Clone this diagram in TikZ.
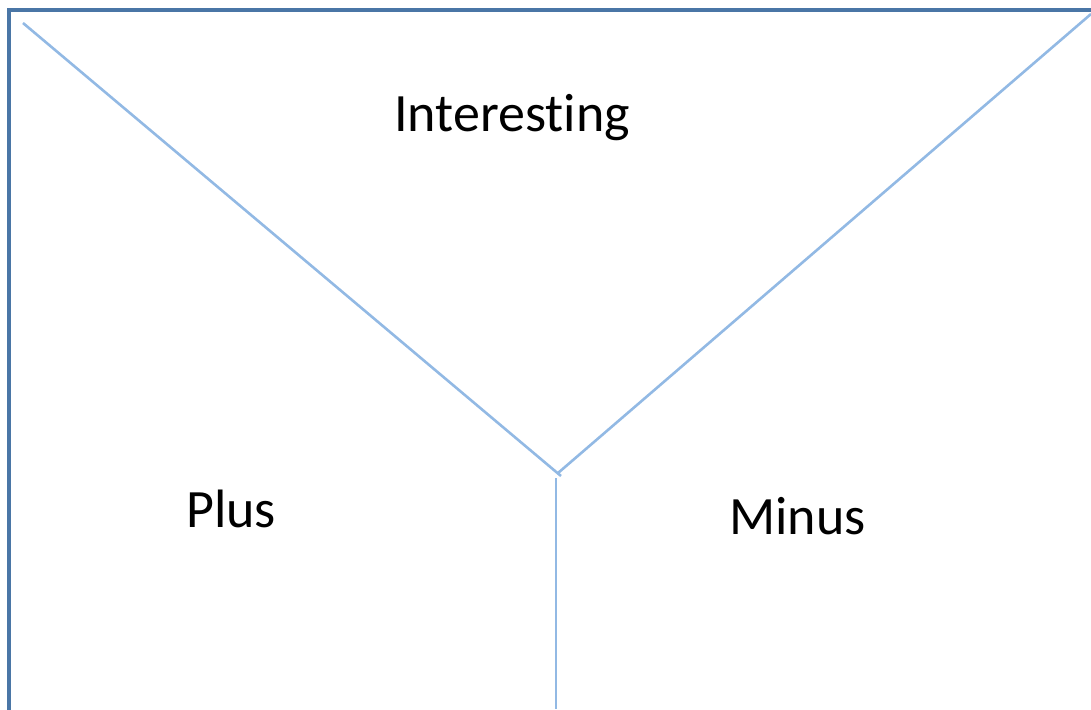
\documentclass[tikz,border=0pt]{standalone}
\usepackage{fontspec}
\setmainfont{Carlito}[Ligatures={NoCommon,NoRare}]
\definecolor{frame}{RGB}{74,118,166}
\definecolor{vline}{RGB}{146,185,228}
\begin{document}
\begin{tikzpicture}[x=1pt,y=-1pt,
  frameline/.style={draw=frame,line width=3.5pt},
  yline/.style={draw=vline,line width=2.6pt},
  lbl/.style={font=\fontsize{54}{60}\selectfont,inner sep=0pt,anchor=base west}]
\useasboundingbox (0,0) rectangle (1091,709);
\draw[frameline] (9,712) -- (9,10) -- (1095,10);
\coordinate (tl) at (23,23);
\coordinate (tr) at (1091,14);
\coordinate (jl) at (561,476);
\coordinate (jr) at (558,473);
\coordinate (vt) at (556,478);
\coordinate (vb) at (556,709);
\draw[yline] (tl) -- (jl);
\draw[yline] (tr) -- (jr);
\draw[yline] (vt) -- (vb);
\node[lbl] (interesting) at (394,131) {Interesting};
\node[lbl] (plus) at (186,527) {Plus};
\node[lbl] (minus) at (729,534) {Minus};
\end{tikzpicture}
\end{document}
